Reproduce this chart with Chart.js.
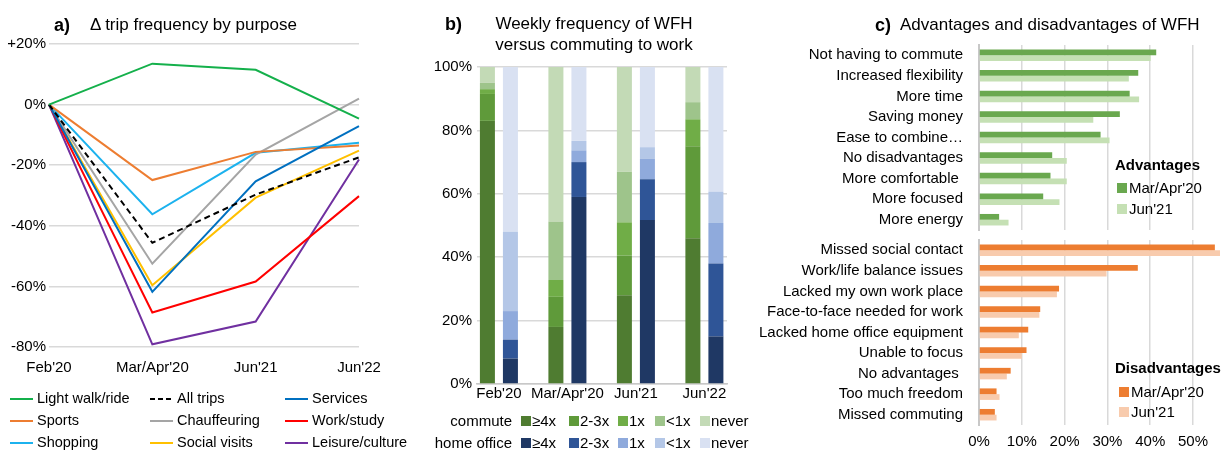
<!DOCTYPE html>
<html>
<head>
<meta charset="utf-8">
<title>Trips and working from home</title>
<script src="https://cdn.jsdelivr.net/npm/chart.js@4.4.1/dist/chart.umd.min.js"></script>
<style>
  html, body { margin: 0; padding: 0; background: #fff; }
  #page { position: relative; width: 1229px; height: 452px; overflow: hidden;
          font-family: "Liberation Sans", Arial, sans-serif; color: #000; }
  #page canvas { position: absolute; }
  .t { position: absolute; white-space: pre; line-height: 20px; height: 20px; }
  .sw { position: absolute; }
</style>
</head>
<body>
<div id="page">
  <canvas id="chartA" width="400" height="392" style="left:0;top:0"></canvas>
  <canvas id="chartB" width="340" height="410" style="left:400px;top:0"></canvas>
  <canvas id="chartAdv" width="489" height="232" style="left:740px;top:0"></canvas>
  <canvas id="chartDis" width="489" height="220" style="left:740px;top:232px"></canvas>
</div>
<script>
// ---- a) change in trip frequency by purpose (% vs Feb'20)
const periods = ["Feb'20", "Mar/Apr'20", "Jun'21", "Jun'22"];
const lightWalk = [0, 13.5, 11.5, -4.6];
const allTrips = [0, -45.6, -29.7, -17.4];
const services = [0, -61.8, -25.3, -7.1];
const sports = [0, -24.9, -15.6, -13.5];
const chauffeuring = [0, -52.5, -16.5, 2];
const workStudy = [0, -68.6, -58.4, -30.2];
const shopping = [0, -36.2, -15.9, -12.6];
const socialVisits = [0, -59.6, -30.7, -15.2];
const leisure = [0, -79.1, -71.6, -18.1];

// ---- b) weekly frequency, share of workers (%)
const freqLevels = ["≥4x", "2-3x", "1x", "<1x", "never"];
const commuteGe4 = [83, 18, 28, 46];
const commute2to3 = [8.5, 9.5, 12.5, 29];
const commute1 = [1.5, 5.3, 10.5, 8.5];
const commuteLt1 = [2, 18.4, 16, 5.4];
const commuteNever = [5, 48.8, 33, 11.1];
const homeGe4 = [8, 59, 51.7, 15];
const home2to3 = [6, 11, 12.9, 23];
const home1 = [9, 3.7, 6.4, 12.8];
const homeLt1 = [25, 3, 3.7, 9.8];
const homeNever = [52, 23.3, 25.3, 39.4];

// ---- c) advantages / disadvantages of WFH (% of respondents)
const surveyWaves = ["Mar/Apr'20", "Jun'21"];
const advantages = ["Not having to commute", "Increased flexibility", "More time", "Saving money",
  "Ease to combine…", "No disadvantages", "More comfortable ", "More focused", "More energy"];
const advMarApr = [41.4, 37.2, 35.2, 32.9, 28.4, 17.1, 16.7, 15.0, 4.7];
const advJun21 = [40.1, 35.0, 37.4, 26.7, 30.5, 20.5, 20.5, 18.8, 6.9];
const disadvantages = ["Missed social contact", "Work/life balance issues", "Lacked my own work place",
  "Face-to-face needed for work", "Lacked home office equipment", "Unable to focus", "No advantages ",
  "Too much freedom", "Missed commuting"];
const disMarApr = [55.1, 37.1, 18.7, 14.3, 11.5, 11.1, 7.4, 4.1, 3.7];
const disJun21 = [56.3, 29.8, 18.2, 14.1, 9.3, 10.0, 6.5, 4.8, 4.1];

Chart.defaults.font.family = '"Liberation Sans", Arial, sans-serif';
Chart.defaults.font.size = 15;
Chart.defaults.color = "#000";
Chart.defaults.animation = false;
Chart.defaults.responsive = false;
Chart.defaults.plugins.legend.display = false;
Chart.defaults.plugins.tooltip.enabled = false;

const GRID = "#d9d9d9";
const page = document.getElementById("page");

// text helper: x = anchor, cy = vertical centre of the capitals
function txt(x, cy, str, size, opts = {}) {
  const d = document.createElement("div");
  d.className = "t";
  d.textContent = str;
  d.style.left = x + "px";
  d.style.top = (cy - 10) + "px";
  d.style.fontSize = size + "px";
  if (opts.bold) d.style.fontWeight = "bold";
  if (opts.align === "right") d.style.transform = "translateX(-100%)";
  if (opts.align === "center") d.style.transform = "translateX(-50%)";
  page.appendChild(d);
}
function swatch(x, y, w, h, css) {
  const d = document.createElement("div");
  d.className = "sw";
  Object.assign(d.style, { left: x + "px", top: y + "px", width: w + "px", height: h + "px" }, css);
  page.appendChild(d);
}

// ================= a) =================
const tripSeries = [
  { name: "Light walk/ride", values: lightWalk, color: "#14b04b" },
  { name: "All trips", values: allTrips, color: "#000000", dash: [6, 4] },
  { name: "Services", values: services, color: "#0070c0" },
  { name: "Sports", values: sports, color: "#ed7d31" },
  { name: "Chauffeuring", values: chauffeuring, color: "#a5a5a5" },
  { name: "Work/study", values: workStudy, color: "#ff0000" },
  { name: "Shopping", values: shopping, color: "#1cb2ee" },
  { name: "Social visits", values: socialVisits, color: "#ffc000" },
  { name: "Leisure/culture", values: leisure, color: "#7030a0" }
];

new Chart(document.getElementById("chartA"), {
  type: "line",
  data: {
    labels: periods,
    datasets: tripSeries.map(s => ({
      label: s.name,
      data: s.values,
      borderColor: s.color,
      borderWidth: 2,
      borderDash: s.dash || [],
      pointRadius: 0,
      fill: false,
      tension: 0
    }))
  },
  options: {
    layout: { padding: { left: 0, right: 41, top: 44, bottom: 15 } },
    scales: {
      x: {
        offset: false,
        grid: { display: false, drawTicks: false },
        border: { display: false },
        ticks: { padding: 12, autoSkip: false, maxRotation: 0 },
        afterFit: s => { s.height = 30; }
      },
      y: {
        min: -80, max: 20,
        ticks: { stepSize: 20, padding: 3, callback: v => (v > 0 ? "+" : "") + v + "%" },
        grid: { color: GRID, lineWidth: 1.5, drawTicks: false },
        border: { display: false },
        afterFit: s => { s.width = 49; }
      }
    }
  }
});

txt(54, 25, "a)", 18, { bold: true });
txt(90, 25, "Δ trip frequency by purpose", 17);

// legend a: 3 columns x 3 rows
const legColX = [10, 150, 285];
const legRowY = [398, 420, 441.5];
tripSeries.forEach((s, i) => {
  const x = legColX[i % 3], y = legRowY[Math.floor(i / 3)];
  const bg = s.dash
    ? "repeating-linear-gradient(to right, " + s.color + " 0 5px, transparent 5px 8px)"
    : s.color;
  swatch(x, y, 23, 2, { background: bg });
  txt(x + 27, y, s.name, 14.5);
});

// ================= b) =================
const commuteColors = ["#4f7c31", "#5f9a3a", "#70ad47", "#9ec48b", "#c3dab6"];
const homeColors = ["#1f3864", "#2f5597", "#8faadc", "#b4c7e7", "#d9e1f2"];
const commuteSets = [commuteGe4, commute2to3, commute1, commuteLt1, commuteNever];
const homeSets = [homeGe4, home2to3, home1, homeLt1, homeNever];

const bDatasets = [];
commuteSets.forEach((vals, k) => bDatasets.push({
  label: "commute " + freqLevels[k], stack: "commute", values: vals, color: commuteColors[k] }));
homeSets.forEach((vals, k) => bDatasets.push({
  label: "home office " + freqLevels[k], stack: "home", values: vals, color: homeColors[k] }));

new Chart(document.getElementById("chartB"), {
  type: "bar",
  data: {
    datasets: bDatasets.map(d => ({
      label: d.label,
      stack: d.stack,
      data: d.values.map((v, i) => ({ x: i, y: v })),
      backgroundColor: d.color,
      borderWidth: 0,
      categoryPercentage: 0.672,
      barPercentage: 0.652
    }))
  },
  options: {
    layout: { padding: { left: 0, right: 13, top: 67, bottom: 6 } },
    scales: {
      x: {
        type: "linear", min: -0.32, max: 3.33, offset: false,
        grid: { display: false, drawTicks: false },
        border: { display: true, color: "#c8c8c8", width: 1.5 },
        ticks: { stepSize: 1, includeBounds: false, padding: 1, autoSkip: false, maxRotation: 0,
                 callback: v => periods[v] },
        afterFit: s => { s.height = 20; }
      },
      y: {
        min: 0, max: 100,
        ticks: { stepSize: 20, padding: 5, callback: v => v + "%" },
        grid: { color: GRID, lineWidth: 1.5, drawTicks: false },
        border: { display: false },
        afterFit: s => { s.width = 77; }
      }
    }
  }
});

txt(445, 24, "b)", 18, { bold: true });
txt(594, 24, "Weekly frequency of WFH", 17, { align: "center" });
txt(594, 45, "versus commuting to work", 17, { align: "center" });

const bBoxX = [521, 569, 618, 655, 700];
[["commute", commuteColors, 421], ["home office", homeColors, 443]].forEach(([name, cols, y]) => {
  txt(512, y, name, 15, { align: "right" });
  freqLevels.forEach((lv, k) => {
    swatch(bBoxX[k], y - 5, 10, 10, { background: cols[k] });
    txt(bBoxX[k] + 11, y, lv, 15);
  });
});

// ================= c) =================
const advColors = ["#6aa84f", "#c5e0b4"];
const disColors = ["#ed7d31", "#f8cbad"];

function hbarOptions(showTicks, padding, axisHeight, tickPad) {
  return {
    indexAxis: "y",
    layout: { padding },
    scales: {
      x: {
        min: 0, max: 57,
        ticks: { display: showTicks, stepSize: 10, includeBounds: false, padding: tickPad,
                 maxRotation: 0, callback: v => v + "%" },
        grid: { color: GRID, lineWidth: 1.5, drawTicks: false },
        border: { display: false },
        afterFit: s => { s.height = axisHeight; }
      },
      y: {
        grid: { display: false, drawTicks: false },
        border: { display: true, color: "#c8c8c8", width: 2 },
        ticks: { padding: 16, autoSkip: false },
        // fixed label column; don't let the label padding shrink the plot vertically
        afterFit: s => { s.width = 239; s.paddingTop = 0; s.paddingBottom = 0; }
      }
    }
  };
}
function hbarSets(a, b, cols) {
  return [a, b].map((vals, k) => ({
    label: surveyWaves[k], data: vals, backgroundColor: cols[k], borderWidth: 0,
    categoryPercentage: 0.56, barPercentage: 1
  }));
}

new Chart(document.getElementById("chartAdv"), {
  type: "bar",
  data: { labels: advantages, datasets: hbarSets(advMarApr, advJun21, advColors) },
  options: hbarOptions(false, { left: 0, right: 6, top: 45, bottom: 2 }, 0, 0)
});
new Chart(document.getElementById("chartDis"), {
  type: "bar",
  data: { labels: disadvantages, datasets: hbarSets(disMarApr, disJun21, disColors) },
  options: hbarOptions(true, { left: 0, right: 6, top: 8, bottom: 5 }, 22, 8)
});

txt(875, 25, "c)", 18, { bold: true });
txt(900, 25, "Advantages and disadvantages of WFH", 17);

txt(1115, 165, "Advantages", 15, { bold: true });
[188, 209].forEach((y, k) => {
  swatch(1117, y - 5, 10, 10, { background: advColors[k] });
  txt(1129, y, surveyWaves[k], 15);
});
txt(1115, 368, "Disadvantages", 15, { bold: true });
[392, 412].forEach((y, k) => {
  swatch(1119, y - 5, 10, 10, { background: disColors[k] });
  txt(1131, y, surveyWaves[k], 15);
});
</script>
</body>
</html>
